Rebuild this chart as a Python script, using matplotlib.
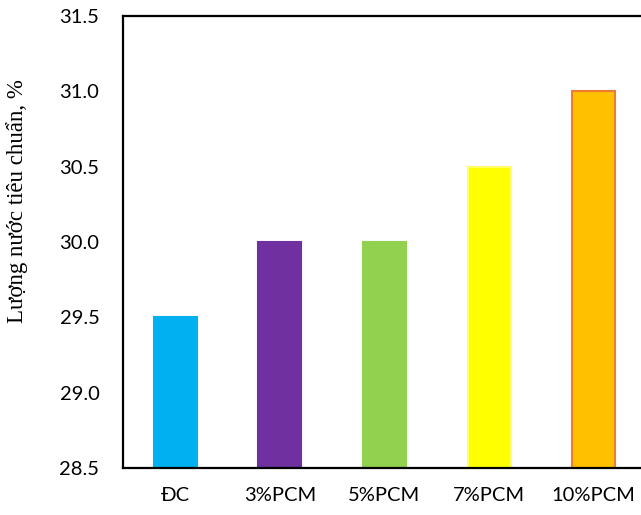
import matplotlib
matplotlib.use('Agg')
import matplotlib.pyplot as plt

categories = ['ĐC', '3%PCM', '5%PCM', '7%PCM', '10%PCM']
values = [29.5, 30.0, 30.0, 30.5, 31.0]
colors = ['#00B0F0', '#7030A0', '#92D050', '#FFFF00', '#FFC000']
edges = ['#00B0F0', '#7030A0', '#92D050', '#FFFF66', '#ED7D31']
yticks = [28.5, 29.0, 29.5, 30.0, 30.5, 31.0, 31.5]

fig = plt.figure(figsize=(6.41, 5.15), dpi=100)
ax = fig.add_axes([123/641, 1 - 468/515, (646 - 123)/641, (468 - 16)/515])

x = range(len(categories))
ax.bar(x, values, width=0.41, color=colors, edgecolor=edges, linewidth=1.5, zorder=2)

ax.set_xlim(-0.5, 4.5)
ax.set_ylim(28.5, 31.5)
ax.set_yticks(yticks)
ax.set_yticklabels(['%.1f' % t for t in yticks], fontfamily='Lato', fontsize=14.5)
ax.set_xticks(list(x))
ax.set_xticklabels(categories, fontfamily='Lato', fontsize=14.5)
ax.tick_params(axis='y', length=0, pad=17)
ax.tick_params(axis='x', length=0, pad=14)

for s in ['left', 'bottom', 'top']:
    ax.spines[s].set_linewidth(1.6)
    ax.spines[s].set_color('black')
ax.spines['right'].set_visible(False)

ax.set_ylabel('Lượng nước tiêu chuẩn, %', fontfamily='Liberation Serif', fontsize=16.5)
ax.yaxis.set_label_coords(-0.182, 0.59)

fig.savefig('out.png', dpi=100)
